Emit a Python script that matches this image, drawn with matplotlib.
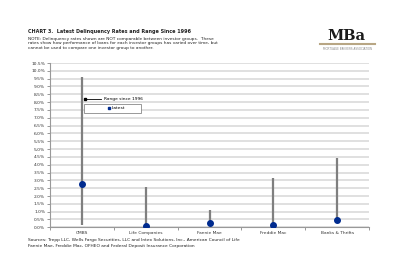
import matplotlib.pyplot as plt
import numpy as np

categories = ['CMBS', 'Life Companies', 'Fannie Mae', 'Freddie Mac', 'Banks & Thrifts']
range_high = [9.6, 2.55, 1.1, 3.15, 4.4]
range_low = [0.15, 0.05, 0.2, 0.1, 0.4]
latest = [2.75, 0.08, 0.25, 0.12, 0.45]
yticks = np.arange(0, 10.51, 0.5)

fig = plt.figure(figsize=(4, 2.74), dpi=100)
ax = fig.add_axes([0.125, 0.1704, 0.7975, 0.5996])

x = np.arange(len(categories))
ax.vlines(x, range_low, range_high, color='#7f7f7f', linewidth=1.6, zorder=3)
ax.scatter(x, latest, s=16, color='#002b8f', zorder=4)

ax.set_ylim(0, 10.5)
ax.set_xlim(-0.5, len(categories) - 0.5)
ax.set_yticks(yticks)
ax.set_yticklabels([f'{v:.1f}%' for v in yticks], fontsize=3.2, color='#333333')
ax.yaxis.grid(True, color='#dddddd', linewidth=1.3)
ax.set_axisbelow(True)

ax.set_xticks(x)
ax.set_xticklabels(categories, fontsize=3.2, color='#333333')
ax.set_xticks(np.arange(-0.5, len(categories)), minor=True)
ax.tick_params(axis='x', which='major', length=0, pad=3)
ax.tick_params(axis='x', which='minor', length=2, color='#888888', width=0.6)
ax.tick_params(axis='y', length=2, color='#888888', width=0.6, pad=1.5)

for side in ['top', 'right']:
    ax.spines[side].set_visible(False)
for side in ['left', 'bottom']:
    ax.spines[side].set_color('#999999')
    ax.spines[side].set_linewidth(0.8)

# legend drawn by hand
ax.plot([0.05, 0.3], [8.2, 8.2], color='black', linewidth=0.6, clip_on=False)
ax.plot([0.05], [8.2], marker='s', color='black', markersize=1.5)
ax.text(0.34, 8.2, 'Range since 1996', fontsize=3.2, va='center')
ax.add_patch(plt.Rectangle((0.04, 7.3), 0.89, 0.6, fill=True, facecolor='white',
                           edgecolor='#888888', linewidth=0.6, zorder=5))
ax.plot([0.42], [7.6], marker='s', color='#002b8f', markersize=1.6, zorder=6)
ax.text(0.47, 7.6, 'Latest', fontsize=3.2, va='center', zorder=6)

fig.text(0.07, 0.884, 'CHART 3.  Latest Delinquency Rates and Range Since 1996',
         fontsize=3.5, fontweight='bold', color='#222222', va='center')
fig.text(0.07, 0.865,
         'NOTE: Delinquency rates shown are NOT comparable between investor groups.  These\n'
         'rates show how performance of loans for each investor groups has varied over time, but\n'
         'cannot be used to compare one investor group to another.',
         fontsize=3.1, color='#222222', va='top', linespacing=1.1)
fig.text(0.07, 0.13,
         'Sources: Trepp LLC, Wells Fargo Securities, LLC and Intex Solutions, Inc., American Council of Life\n'
         'Fannie Mae, Freddie Mac, OFHEO and Federal Deposit Insurance Corporation',
         fontsize=3.15, color='#222222', va='top', linespacing=1.45)

# MBA logo
fig.text(0.865, 0.87, 'MBa', fontsize=10.5, fontweight='bold', family='DejaVu Serif',
         ha='center', va='center', color='#1a1a1a')
fig.add_artist(plt.Line2D([0.8, 0.937], [0.84, 0.84], color='#b8a684', linewidth=1.5))
fig.text(0.868, 0.82, 'MORTGAGE BANKERS ASSOCIATION', fontsize=2, ha='center',
         va='center', color='#888888')

plt.savefig('out.png', dpi=100)
